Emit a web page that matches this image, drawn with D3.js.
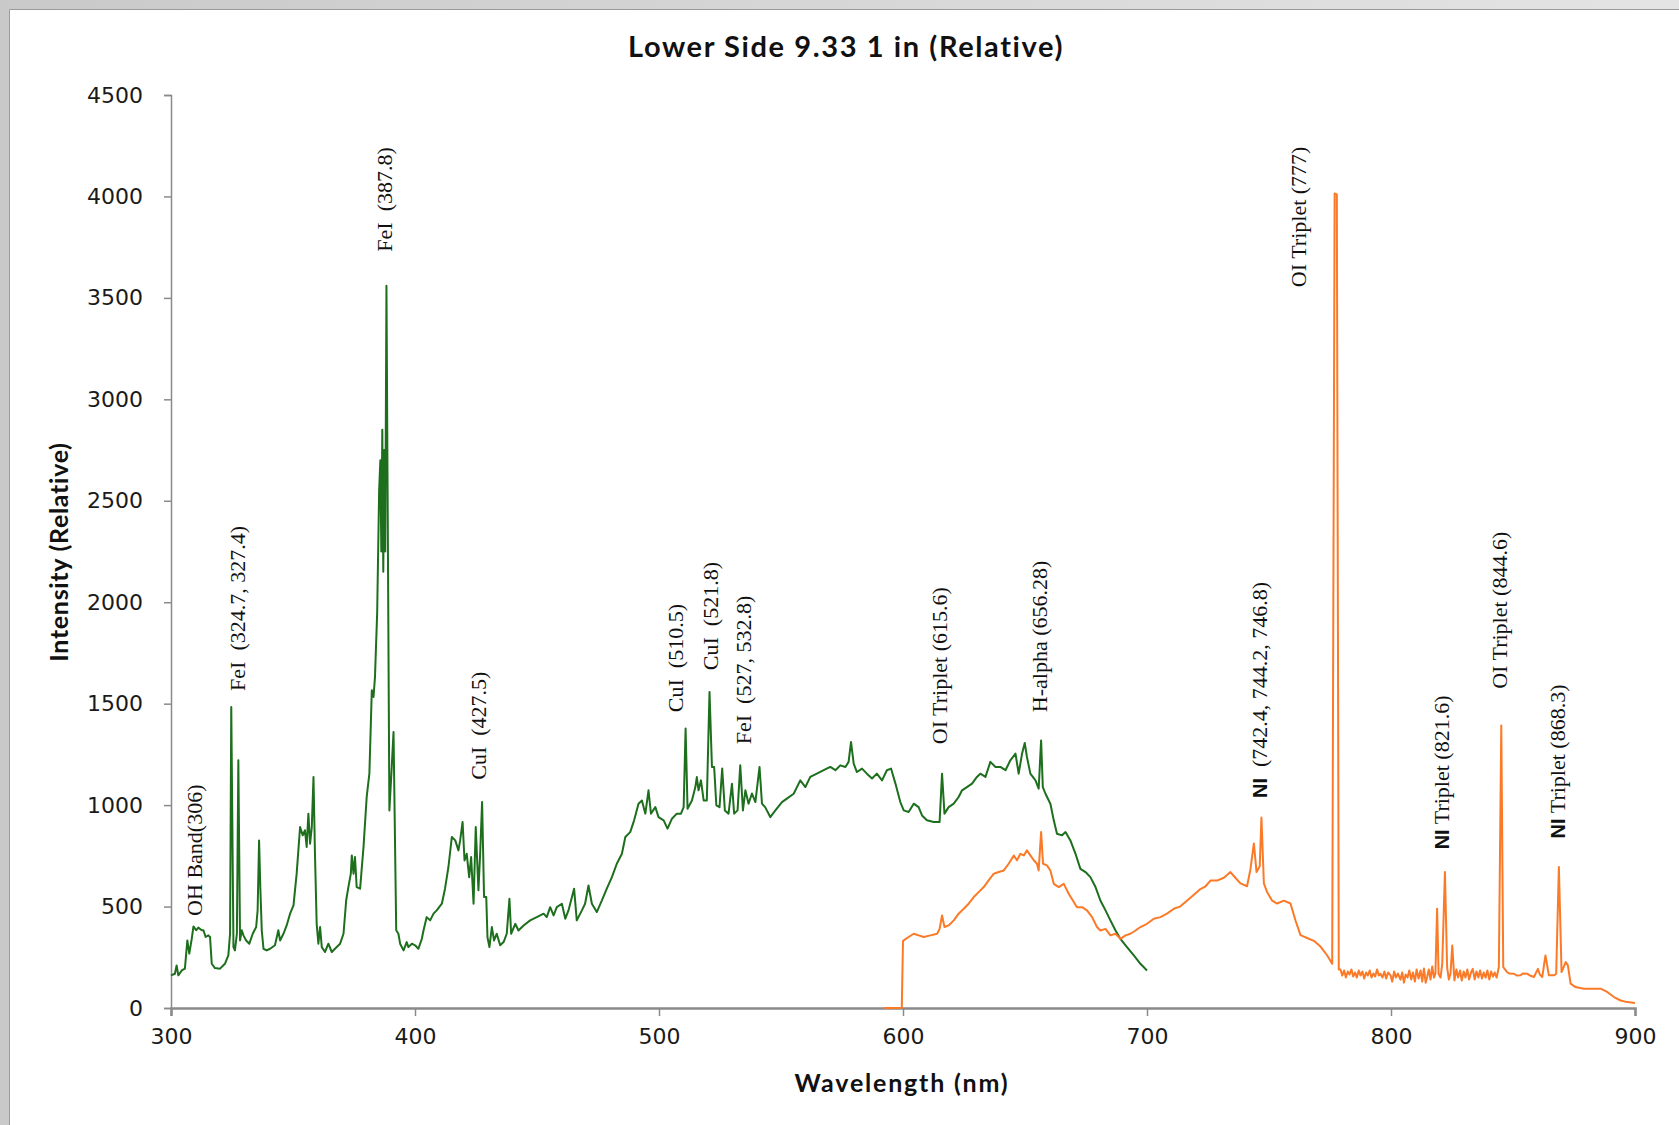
<!DOCTYPE html>
<html>
<head>
<meta charset="utf-8">
<script src="https://cdn.jsdelivr.net/npm/d3@7"></script>
<style>
  body { margin: 0; background: #ffffff; }
  svg { display: block; }
</style>
</head>
<body>
<svg id="chart" width="1679" height="1125"></svg>
<script>
// Emission spectrum, lower side 9.33, 1 in — wavelength (nm) vs relative intensity

const chartTitle = "Lower Side 9.33 1 in (Relative)";
const xTitle = "Wavelength (nm)";
const yTitle = "Intensity (Relative)";

const xTicks = [300, 400, 500, 600, 700, 800, 900];
const yTicks = [0, 500, 1000, 1500, 2000, 2500, 3000, 3500, 4000, 4500];

// Spectrometer 1 (UV/visible), [wavelength nm, intensity]
const greenSpectrum = [
  [300,161],[301.6,169],[302.3,210],[303,161],[304.4,185],[305.7,194],[306.7,333],[307.5,268],
  [308.5,341],[309.2,402],[310.3,383],[311.2,396],[312.6,383],[313.3,383],[314.2,350],[315.3,358],
  [316,350],[316.7,218],[318,197],[320.1,194],[322.1,218],[323.5,259],[324.2,366],[324.7,1484],
  [325.6,300],[326.2,284],[327,366],[327.6,1221],[328.3,333],[329,383],[329.7,358],[330.8,333],
  [332.1,317],[333.5,366],[334.9,399],[335.5,481],[336.1,826],[336.6,596],[337.2,383],[337.9,292],
  [339.2,284],[340.6,292],[342.6,309],[344,383],[344.7,333],[346.1,366],[347.4,407],[348.8,465],
  [350.2,506],[351.5,662],[352.9,892],[354,851],[354.9,876],[355.6,794],[356.3,958],[357,810],
  [357.7,892],[358.4,1138],[359,761],[359.7,415],[360.4,317],[361.1,399],[361.8,300],[363.1,276],
  [364.5,317],[365.9,276],[367.2,292],[369.3,317],[370.7,366],[371.8,531],[372.7,596],[373.7,662],
  [374.1,752],[374.8,662],[375.4,744],[376.1,596],[377.5,588],[378.9,794],[380.2,1040],[381.3,1155],
  [382.3,1566],[383,1533],[383.6,1632],[384.5,1950],[385.3,2550],[385.8,2700],[386.2,2250],[386.6,2850],
  [387,2150],[387.4,2750],[387.8,2250],[388.3,3560],[389.5,974],[390.3,1150],[391.2,1360],[392.3,383],
  [393.2,366],[393.9,317],[395.3,284],[396.6,325],[397.3,300],[398.7,317],[400,309],[401.4,292],
  [402.8,341],[403.5,383],[404.8,448],[406.2,432],[407.6,465],[408.9,481],[411,514],[412.3,588],
  [413.7,695],[415.1,843],[416.5,826],[417.8,777],[418.5,826],[419.5,917],[420.3,727],[421.2,760],
  [422.2,645],[423,744],[424,514],[424.9,892],[426,580],[426.7,760],[427.5,1015],[428.3,547],
  [429.2,547],[429.7,349],[430.5,300],[431.5,399],[432.4,333],[433.5,366],[434.9,309],[436.3,325],
  [437.6,366],[438.7,538],[439.4,366],[441.1,415],[442.4,382],[444.5,407],[447.2,432],[449.9,448],
  [452.7,465],[454,448],[455.4,497],[456.8,456],[458.1,497],[460.2,514],[461.6,440],[462.9,481],
  [465.2,588],[466.3,432],[468.4,481],[469.7,514],[471.1,604],[472.5,514],[474.5,473],[476.6,530],
  [478.6,588],[480.7,645],[482.7,711],[484.8,760],[486.2,843],[488.2,867],[489.8,925],[491.6,1007],
  [493,1023],[494.4,958],[495.7,1073],[496.7,958],[498.5,990],[499.8,941],[501.9,925],[503.5,884],
  [505.3,933],[507.3,958],[509,958],[510.1,990],[510.9,1377],[511.7,982],[513.5,1023],[514.9,1089],
  [515.5,1138],[516.2,1073],[517.2,1122],[518.3,1023],[519.6,1023],[520.7,1558],[521.7,1188],[522.6,1188],
  [523.5,999],[524.8,990],[525.9,1180],[527,974],[528.5,958],[529.9,1105],[530.8,958],[532.2,974],
  [533.3,1196],[534.4,974],[535.4,1073],[536.7,1007],[538.1,1057],[539.5,1015],[541.2,1188],[542.2,1007],
  [543.5,990],[545.6,941],[547.7,974],[550.4,1015],[552.4,1032],[555.2,1056],[557.9,1122],[560,1089],
  [562,1139],[564.7,1155],[567.5,1172],[570.2,1188],[572.3,1172],[574.3,1196],[576.4,1188],[577.7,1213],
  [578.7,1311],[579.8,1204],[581.1,1163],[583.2,1180],[585.2,1155],[587.3,1131],[589.3,1155],[591.4,1122],
  [593.4,1172],[595.1,1180],[596.9,1106],[598.9,1015],[600.3,974],[602.3,966],[604.4,1007],[606.4,990],
  [607.8,949],[609.8,925],[612.6,917],[615,917],[616,1155],[617,958],[618.7,990],[620.8,1007],
  [622.8,1040],[624.2,1073],[626.2,1089],[628.3,1106],[630.3,1139],[631.7,1155],[633.8,1139],[635.8,1213],
  [637.9,1188],[639.9,1188],[642,1172],[644,1221],[646.1,1254],[647.4,1155],[648.8,1254],[649.9,1306],
  [650.8,1237],[652.2,1155],[654.3,1122],[655.6,1081],[656.6,1319],[657.3,1089],[658.4,1056],[660.4,1007],
  [661.8,925],[663.1,859],[665.2,851],[666.6,867],[668.6,826],[670.7,760],[672.7,686],[674.8,670],
  [676.8,645],[678.9,596],[680.9,530],[683,481],[685,432],[687.1,382],[689.1,341],[691.8,300],
  [694.6,259],[697.3,218],[700,185]
];

// Spectrometer 2 (visible/near-IR), [wavelength nm, intensity]
const orangeSpectrum = [
  [592,0],[599.5,0],[600,330],[600.3,333],[602.3,350],[604.4,366],[606.4,358],[608.5,350],
  [611.2,358],[614,366],[615,390],[616,456],[617,399],[618.7,407],[620.8,432],[622.8,465],
  [624.9,489],[626.9,514],[629,547],[631,571],[633.1,596],[635.1,629],[637.2,662],[639.2,670],
  [641.3,678],[643.3,711],[645.4,752],[646.7,728],[648.1,760],[649.5,752],[650.8,777],[652.2,752],
  [653.6,728],[654.9,711],[655.6,678],[656.6,867],[657.4,711],[659,703],[660.4,678],[661.8,612],
  [663.8,596],[665.9,612],[667.9,563],[670,522],[671.3,497],[673.4,497],[675.4,481],[677.5,448],
  [679.5,399],[680.9,382],[683,390],[685,358],[687.1,366],[689.1,341],[691.2,358],[693.2,366],
  [695.3,382],[697.3,399],[700,415],[702.8,440],[705.5,448],[708.2,465],[711,489],[713.7,501],
  [717.8,543],[721.9,586],[724,600],[726,628],[728.7,628],[731.5,642],[734.2,670],[736.2,642],
  [738.3,614],[741,600],[742.4,684],[743.8,811],[744.9,670],[746.2,698],[746.9,939],[747.9,614],
  [749.2,572],[751.3,529],[753.3,515],[756.1,529],[758.8,515],[760.9,430],[762.9,359],[765.6,345],
  [768.4,331],[771.1,303],[773.8,260],[775.9,218],[776.9,4015],[777.8,4010],[778.6,190],[779.3,190],
  [780,160],[780.8,185],[781.5,150],[782.3,180],[783,165],[783.8,190],[784.5,155],[785.3,175],
  [786,150],[786.8,185],[787.5,160],[788.3,180],[789,145],[789.8,175],[790.5,160],[791.3,185],
  [792,150],[792.8,170],[793.5,155],[794.3,190],[795,160],[795.7,169],[796.5,150],[797.3,180],
  [798,145],[798.8,175],[799.8,161],[800.5,130],[801.3,180],[802,150],[802.8,170],[803.9,140],
  [804.6,175],[805.3,125],[806,165],[806.8,150],[807.5,185],[808.3,140],[809,175],[809.8,130],
  [810.5,190],[811.3,145],[812.1,185],[812.8,130],[813.5,195],[814.2,125],[814.8,153],[815.5,190],
  [816.2,140],[816.9,205],[817.6,150],[818.2,169],[818.9,489],[819.5,169],[820.3,150],[821,218],
  [822.1,670],[823,202],[823.7,140],[824.4,169],[825.1,308],[826,136],[826.8,190],[827.5,150],
  [828.3,185],[829,135],[829.8,180],[830.5,150],[831.3,190],[832,140],[832.8,175],[833.5,193],
  [834.3,140],[835,180],[835.8,150],[836.5,185],[837.3,145],[838,175],[838.8,150],[839.5,185],
  [840.3,140],[841,180],[841.8,155],[842.5,175],[843.3,150],[844.2,202],[845.2,1393],[846,202],
  [847.6,177],[848.5,170],[850.4,169],[851.5,160],[853.1,161],[854,170],[855.8,169],[857,160],
  [858.6,153],[860.2,193],[861,165],[862,153],[863.3,259],[864.7,161],[866.8,161],[867.7,169],
  [868.8,695],[869.9,177],[871.6,226],[872.5,210],[873.6,120],[875.6,103],[879.1,95],[883.2,95],
  [885.9,95],[888.6,79],[891.4,54],[894.1,37],[896.8,29],[900,25]
];

// Line identifications; each label sits with its lower end at (wavelength, intensity)
const labelPrefix = ["", "FeI", "FeI", "CuI", "CuI", "CuI", "FeI", "", "", "NI", "", "NI", "", "NI"];
const labelText = [
  "OH Band(306)", "  (324.7, 327.4)", "  (387.8)", "  (427.5)", "  (510.5)", "  (521.8)",
  "  (527, 532.8)", "OI Triplet (615.6)", "H-alpha (656.28)", "  (742.4, 744.2, 746.8)",
  "OI Triplet (777)", " Triplet (821.6)", "OI Triplet (844.6)", " Triplet (868.3)"
];
const labelWl = [312.7, 330.2, 390.4, 429.0, 509.8, 524.3, 537.8, 618.2, 659.0, 749.0, 765.3, 823.6, 847.4, 871.5];
const labelI  = [454, 1563, 3728, 1125, 1458, 1665, 1300, 1300, 1458, 1035, 3553, 782, 1573, 836];

const svg = d3.select("#chart");
const W = 1679, H = 1125;

// window frame: grey band along the top and left edges
const defs = svg.append("defs");
const grad = defs.append("linearGradient").attr("id", "frameGrad")
  .attr("x1", 0).attr("y1", 0).attr("x2", 1).attr("y2", 0);
grad.append("stop").attr("offset", "0%").attr("stop-color", "#c9c9c9");
grad.append("stop").attr("offset", "100%").attr("stop-color", "#e4e4e4");
svg.append("rect").attr("width", W).attr("height", H).attr("fill", "url(#frameGrad)");
svg.append("rect").attr("x", 9).attr("y", 9).attr("width", W - 9).attr("height", H - 9)
  .attr("fill", "#ffffff");
svg.append("path").attr("d", `M9.5,${H}V9.5H${W}`).attr("fill", "none")
  .attr("stroke", "#9a9a9a").attr("stroke-width", 1);

const x = d3.scaleLinear().domain([300, 900]).range([171, 1635]);
const y = d3.scaleLinear().domain([0, 4500]).range([1008, 95]);

// axes
const yAxis = d3.axisLeft(y).tickValues(yTicks).tickSize(7).tickPadding(21).tickFormat(d3.format("d"));
const yG = svg.append("g").attr("transform", `translate(${x(300)},0)`).call(yAxis);
yG.select(".domain").attr("stroke", "#8a8a8a").attr("stroke-width", 1.5);
yG.selectAll(".tick line").attr("stroke", "#8a8a8a").attr("stroke-width", 1.5);
yG.selectAll(".tick text").attr("font-family", "'DejaVu Sans', Verdana, sans-serif")
  .attr("font-size", 22).attr("fill", "#1a1a1a");

const xAxis = d3.axisBottom(x).tickValues(xTicks).tickSize(8).tickPadding(12).tickFormat(d3.format("d"));
const xG = svg.append("g").attr("transform", `translate(0,${y(0)})`).call(xAxis);
xG.select(".domain").attr("stroke", "#8a8a8a").attr("stroke-width", 2.5);
xG.selectAll(".tick line").attr("stroke", "#8a8a8a").attr("stroke-width", 1.5);
xG.selectAll(".tick text").attr("font-family", "'DejaVu Sans', Verdana, sans-serif")
  .attr("font-size", 22).attr("fill", "#1a1a1a");

// spectra
const line = d3.line().x(d => x(d[0])).y(d => y(d[1]));
svg.append("path").datum(greenSpectrum).attr("d", line)
  .attr("fill", "none").attr("stroke", "#1d6f1d").attr("stroke-width", 2).attr("stroke-linejoin", "round");
svg.append("path").datum(orangeSpectrum).attr("d", line)
  .attr("fill", "none").attr("stroke", "#fb7a28").attr("stroke-width", 2).attr("stroke-linejoin", "round");

// line labels, rotated to read bottom-up
const labels = svg.append("g").attr("font-family", "'Liberation Serif', 'Times New Roman', serif")
  .attr("font-size", 22).attr("fill", "#111");
labelText.forEach((t, i) => {
  const tx = labels.append("text")
    .attr("transform", `translate(${x(labelWl[i])},${y(labelI[i])}) rotate(-90)`)
    .attr("text-anchor", "start")
    .style("white-space", "pre");
  if (labelPrefix[i]) {
    const bold = labelPrefix[i] === "NI";
    tx.append("tspan").text(labelPrefix[i])
      .attr("font-weight", bold ? "bold" : "normal")
      .attr("font-family", bold ? "'Liberation Sans', Arial, sans-serif" : null)
      .attr("font-size", bold ? 20 : null);
  }
  tx.append("tspan").text(t);
});

// titles
svg.append("text").attr("x", 846).attr("y", 57).attr("text-anchor", "middle")
  .attr("font-family", "Lato, 'Open Sans', sans-serif").attr("font-weight", "bold")
  .attr("font-size", 29).attr("letter-spacing", 1.6).attr("fill", "#111").text(chartTitle);
svg.append("text").attr("x", 902).attr("y", 1092).attr("text-anchor", "middle")
  .attr("font-family", "Lato, 'Open Sans', sans-serif").attr("font-weight", "bold")
  .attr("font-size", 25).attr("letter-spacing", 1.8).attr("fill", "#111").text(xTitle);
svg.append("text").attr("transform", "translate(68,552) rotate(-90)").attr("text-anchor", "middle")
  .attr("font-family", "Lato, 'Open Sans', sans-serif").attr("font-weight", "bold")
  .attr("font-size", 25).attr("letter-spacing", 0.7).attr("fill", "#111").text(yTitle);
</script>
</body>
</html>
